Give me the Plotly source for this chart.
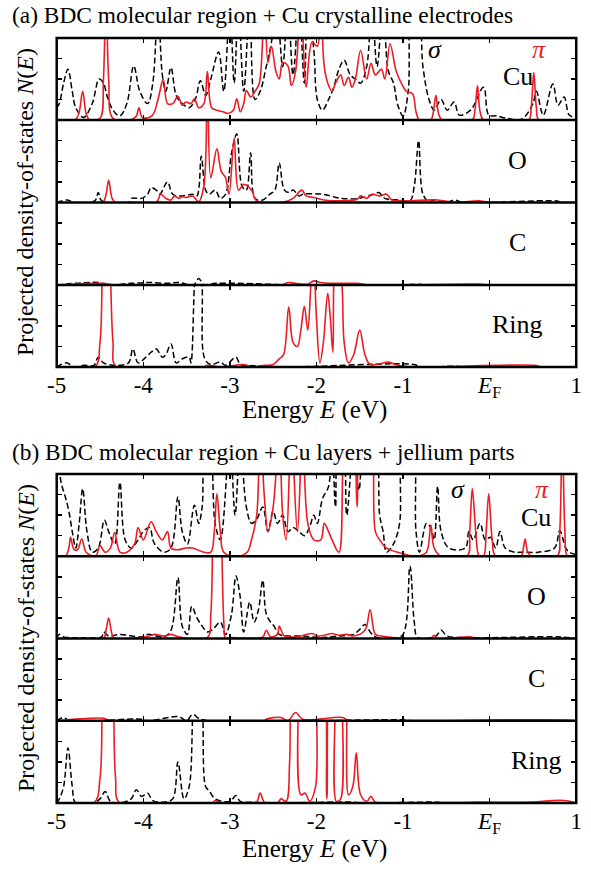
import plotly.graph_objects as go

# ---------------- data (energy in eV, normalised projected DOS) ----------------
# Panel (a): BDC molecular region + Cu crystalline electrodes
a_cu_sigma_E = [-5.00,-4.97,-4.92,-4.87,-4.82,-4.78,-4.69,-4.59,-4.51,-4.46,-4.42,-4.35,-4.27,-4.19,-4.11,-4.04,-3.95,-3.89,-3.83,-3.78,-3.74,-3.68,-3.62,-3.55,-3.47,-3.40,-3.34,-3.28,-3.22,-3.13,-3.07,-3.00,-2.95,-2.90,-2.84,-2.77,-2.71,-2.65,-2.58,-2.52,-2.46,-2.39,-2.33,-2.27,-2.20,-2.14,-2.10,-2.03,-1.99,-1.93,-1.86,-1.80,-1.74,-1.68,-1.61,-1.55,-1.49,-1.42,-1.36,-1.30,-1.23,-1.17,-1.11,-1.06,-1.00,-0.94,-0.89,-0.83,-0.77,-0.70,-0.64,-0.56,-0.49,-0.41,-0.35,-0.22,-0.07,-0.01,0.08,0.20,0.37,0.50,0.54,0.62,0.73,0.79,0.86,0.92,1.00]
a_cu_sigma_N = [0.15,0.20,0.45,0.62,0.35,0.15,0.03,0.20,0.50,0.45,0.30,0.12,0.05,0.20,0.66,0.35,0.20,0.45,1.40,0.55,0.35,0.64,0.30,0.20,0.15,0.25,0.48,0.30,0.50,0.83,0.35,1.40,0.45,1.40,0.35,1.40,0.25,0.35,0.65,0.95,1.40,0.65,1.40,0.55,1.40,0.45,1.40,0.85,0.25,0.12,0.25,0.40,0.62,0.73,0.55,0.50,0.45,0.65,1.40,0.65,1.40,0.60,0.45,0.18,0.05,0.35,1.40,1.40,0.65,0.25,0.12,0.25,0.12,0.22,0.06,0.12,0.40,0.06,0.05,0.02,0.01,0.20,0.35,0.06,0.44,0.18,0.28,0.06,0.03]

a_cu_pi_E = [-5.00,-4.78,-4.74,-4.70,-4.66,-4.62,-4.50,-4.46,-4.43,-4.40,-4.35,-4.15,-4.08,-4.05,-4.01,-3.90,-3.83,-3.77,-3.72,-3.66,-3.60,-3.55,-3.51,-3.45,-3.41,-3.36,-3.30,-3.26,-3.21,-3.15,-3.08,-3.02,-2.96,-2.92,-2.88,-2.84,-2.81,-2.76,-2.71,-2.66,-2.60,-2.56,-2.52,-2.47,-2.43,-2.39,-2.33,-2.29,-2.24,-2.18,-2.12,-2.05,-1.99,-1.95,-1.91,-1.86,-1.82,-1.78,-1.72,-1.68,-1.63,-1.59,-1.55,-1.49,-1.42,-1.37,-1.32,-1.25,-1.21,-1.15,-1.08,-1.02,-0.96,-0.89,-0.85,-0.81,-0.68,-0.65,-0.62,-0.59,-0.55,-0.20,-0.17,-0.14,-0.11,-0.07,0.45,0.48,0.51,0.54,0.57,1.00]
a_cu_pi_N = [0.00,0.01,0.10,0.35,0.08,0.00,0.02,0.50,1.60,0.50,0.02,0.00,0.05,0.15,0.03,0.05,0.25,0.50,0.20,0.20,0.29,0.18,0.22,0.20,0.26,0.15,0.20,0.59,0.15,0.12,0.10,0.08,0.12,0.26,0.10,0.20,0.36,0.28,0.35,0.45,1.50,0.70,0.90,0.60,0.50,0.70,0.66,0.42,0.60,1.50,0.40,0.95,0.90,1.50,0.65,0.42,0.35,0.45,0.55,0.42,0.52,0.40,0.50,0.85,0.50,0.69,0.55,0.62,0.50,0.93,0.60,0.45,0.35,0.32,0.10,0.00,0.00,0.10,0.30,0.08,0.00,0.00,0.12,0.42,0.10,0.00,0.00,0.15,0.58,0.15,0.00,0.00]

a_o_sigma_E = [-5.00,-4.88,-4.80,-4.56,-4.52,-4.48,-4.16,-4.14,-4.02,-3.95,-3.91,-3.85,-3.81,-3.72,-3.66,-3.55,-3.43,-3.38,-3.33,-3.28,-3.24,-3.17,-3.11,-3.05,-2.98,-2.92,-2.86,-2.81,-2.76,-2.71,-2.62,-2.54,-2.48,-2.43,-2.37,-2.31,-2.27,-2.20,-2.16,-1.93,-1.72,-1.51,-1.34,-1.28,-1.21,-1.04,-0.92,-0.87,-0.82,-0.77,-0.70,-0.64,-0.50,-0.41,-0.30,0.75,0.85,1.00]
a_o_sigma_N = [0.00,0.03,0.00,0.02,0.12,0.02,0.00,0.05,0.05,0.10,0.18,0.15,0.10,0.25,0.10,0.08,0.10,0.08,0.56,0.15,0.10,0.15,0.05,0.10,0.60,0.83,0.20,0.15,0.60,0.05,0.03,0.10,0.15,0.48,0.15,0.12,0.15,0.08,0.10,0.10,0.05,0.05,0.10,0.12,0.05,0.03,0.02,0.20,0.75,0.10,0.01,0.03,0.00,0.03,0.00,0.02,0.00,0.00]

a_o_pi_E = [-5.00,-4.47,-4.43,-4.40,-4.36,-4.32,-3.85,-3.80,-3.74,-3.68,-3.64,-3.59,-3.55,-3.51,-3.47,-3.43,-3.36,-3.30,-3.26,-3.22,-3.15,-3.10,-3.05,-3.01,-2.95,-2.90,-2.84,-2.75,-2.69,-2.40,-2.27,-2.17,-2.12,-2.03,-1.91,-1.74,-1.53,-1.49,-1.42,-1.36,-1.27,-1.19,-1.13,-1.06,-0.60,-0.40,-0.12,0.00,1.00]
a_o_pi_N = [0.00,0.00,0.10,0.27,0.05,0.00,0.00,0.10,0.05,0.03,0.08,0.05,0.07,0.06,0.07,0.08,0.01,0.20,1.40,0.30,0.65,0.38,0.30,0.10,0.78,0.15,0.22,0.15,0.02,0.00,0.05,0.15,0.08,0.06,0.03,0.02,0.04,0.08,0.05,0.10,0.08,0.10,0.03,0.02,0.03,0.00,0.02,0.00,0.00]

a_c_sigma_E = [-5.00,-4.52,-4.40,-4.14,-3.93,-3.72,-3.59,-3.42,-3.36,-3.30,-3.17,-2.92,-2.58,-2.30,-1.00,-0.85,-0.70,1.00]
a_c_sigma_N = [0.00,0.03,0.00,0.02,0.03,0.02,0.03,0.00,0.08,0.00,0.02,0.02,0.01,0.00,0.00,0.01,0.00,0.00]
a_c_pi_E = [-5.00,-4.46,-4.35,-2.40,-2.33,-2.24,-2.10,-2.03,-1.95,-1.82,-1.53,-1.40,-0.14,0.00,1.00]
a_c_pi_N = [0.00,0.02,0.00,0.00,0.03,0.02,0.01,0.05,0.03,0.02,0.02,0.00,0.01,0.00,0.00]

a_ring_sigma_E = [-5.00,-4.97,-4.88,-4.80,-4.69,-4.57,-4.52,-4.46,-4.35,-4.27,-4.17,-4.12,-4.06,-3.97,-3.91,-3.85,-3.78,-3.74,-3.68,-3.62,-3.55,-3.47,-3.45,-3.41,-3.36,-3.32,-3.29,-3.22,-3.11,-3.05,-2.93,-2.88,-2.79,-2.58,-2.30,-0.87,-0.80,-0.41,-0.30,1.00]
a_ring_sigma_N = [0.00,0.02,0.05,0.00,0.02,0.02,0.12,0.05,0.02,0.02,0.05,0.22,0.05,0.12,0.18,0.22,0.12,0.15,0.28,0.05,0.10,0.12,0.05,1.00,2.00,1.00,0.10,0.03,0.06,0.02,0.12,0.03,0.02,0.01,0.00,0.03,0.00,0.01,0.00,0.00]
a_ring_pi_E = [-5.00,-4.56,-4.50,-4.47,-4.43,-4.39,-4.35,-4.31,-3.30,-3.26,-3.10,-2.84,-2.75,-2.60,-2.50,-2.43,-2.38,-2.32,-2.27,-2.22,-2.18,-2.14,-2.10,-2.07,-2.04,-2.00,-1.96,-1.92,-1.87,-1.84,-1.81,-1.78,-1.74,-1.70,-1.68,-1.63,-1.57,-1.50,-1.44,-1.38,-1.27,-1.17,-1.06,-0.90,0.52,0.60,1.00]
a_ring_pi_N = [0.00,0.00,0.30,1.60,2.50,1.60,0.30,0.00,0.00,0.02,0.00,0.03,0.00,0.02,0.03,0.10,0.15,0.73,0.30,0.25,0.45,0.74,0.45,0.90,1.50,0.60,0.05,0.30,0.90,0.60,0.18,1.50,1.60,0.90,0.30,0.05,0.15,0.45,0.15,0.03,0.04,0.06,0.02,0.00,0.02,0.00,0.00]

# Panel (b): BDC molecular region + Cu layers + jellium parts
b_cu_sigma_E = [-5.00,-4.97,-4.95,-4.90,-4.86,-4.82,-4.78,-4.74,-4.70,-4.65,-4.59,-4.52,-4.45,-4.40,-4.33,-4.27,-4.21,-4.14,-4.06,-4.00,-3.93,-3.87,-3.76,-3.68,-3.60,-3.55,-3.49,-3.41,-3.36,-3.32,-3.28,-3.24,-3.17,-3.11,-3.00,-2.94,-2.88,-2.81,-2.75,-2.69,-2.62,-2.56,-2.50,-2.45,-2.39,-2.33,-2.27,-2.20,-2.14,-2.08,-2.03,-1.99,-1.93,-1.86,-1.82,-1.78,-1.74,-1.70,-1.65,-1.57,-1.51,-1.44,-1.38,-1.32,-1.27,-1.23,-1.19,-1.11,-1.04,-1.00,-0.94,-0.89,-0.85,-0.81,-0.73,-0.68,-0.64,-0.60,-0.56,-0.47,-0.28,-0.24,-0.19,-0.11,-0.05,0.01,0.07,0.12,0.18,0.29,0.37,0.56,0.75,0.81,0.88,0.92,1.00]
b_cu_sigma_N = [1.40,1.10,0.90,0.72,0.55,0.30,0.10,0.40,0.82,0.30,0.05,0.10,0.44,0.30,0.15,0.90,0.20,0.10,0.20,0.30,0.35,0.15,0.05,0.10,0.72,0.30,0.15,0.62,0.40,0.60,1.40,1.40,0.40,0.20,1.40,0.50,1.40,0.60,0.40,0.45,0.60,0.30,0.55,0.40,0.50,0.30,0.35,0.30,0.25,0.35,0.50,0.40,0.70,0.85,1.40,0.60,1.40,1.40,0.50,1.40,0.80,1.40,1.40,1.40,0.50,0.30,0.05,0.15,0.40,1.40,1.40,1.40,0.30,0.05,0.40,0.35,0.20,0.85,0.30,0.10,0.10,0.30,0.20,0.40,0.20,0.23,0.10,0.30,0.10,0.05,0.05,0.05,0.10,0.31,0.10,0.05,0.02]

b_cu_pi_E = [-5.00,-4.90,-4.86,-4.84,-4.80,-4.76,-4.71,-4.66,-4.55,-4.50,-4.44,-4.38,-4.33,-4.27,-4.19,-4.10,-4.06,-4.00,-3.91,-3.85,-3.78,-3.72,-3.68,-3.60,-3.51,-3.43,-3.30,-3.22,-3.18,-3.15,-3.11,-3.07,-2.92,-2.80,-2.75,-2.69,-2.65,-2.60,-2.56,-2.50,-2.43,-2.39,-2.35,-2.29,-2.22,-2.16,-2.10,-2.03,-1.95,-1.91,-1.86,-1.82,-1.74,-1.65,-1.59,-1.53,-1.49,-1.44,-1.38,-1.32,-1.27,-1.19,-1.06,-0.85,-0.73,-0.68,-0.64,-0.56,-0.26,-0.23,-0.20,-0.16,-0.12,-0.07,-0.04,-0.01,0.03,0.07,0.36,0.39,0.41,0.44,0.48,0.78,0.81,0.84,0.87,0.90,1.00]
b_cu_pi_N = [0.00,0.00,0.10,0.23,0.08,0.08,0.21,0.05,0.00,0.13,0.05,0.10,0.29,0.05,0.05,0.15,0.35,0.20,0.42,0.30,0.20,0.30,0.10,0.08,0.10,0.10,0.05,0.05,0.30,0.76,0.30,0.05,0.00,0.05,0.20,0.50,1.50,0.70,0.30,0.60,1.50,0.50,0.20,1.50,0.30,1.50,0.40,0.20,0.20,0.40,0.30,0.20,0.05,1.50,1.50,0.60,1.50,1.50,1.50,0.30,0.20,0.10,0.05,0.00,0.05,0.38,0.10,0.00,0.00,0.30,0.82,0.30,0.00,0.00,0.30,0.76,0.20,0.00,0.00,0.10,0.21,0.05,0.00,0.00,0.30,1.50,0.30,0.00,0.00]

b_o_sigma_E = [-5.00,-4.97,-4.92,-4.69,-4.48,-4.46,-4.40,-4.27,-4.02,-3.95,-3.76,-3.68,-3.60,-3.55,-3.49,-3.44,-3.38,-3.32,-3.26,-3.19,-3.11,-3.05,-2.98,-2.93,-2.88,-2.84,-2.77,-2.72,-2.67,-2.62,-2.58,-2.53,-2.49,-2.43,-2.33,-2.16,-1.95,-1.74,-1.57,-1.51,-1.44,-1.38,-1.32,-1.11,-1.00,-0.92,-0.87,-0.83,-0.62,-0.56,-0.49,-0.22,0.79,1.00]
b_o_sigma_N = [0.00,0.05,0.02,0.01,0.02,0.08,0.03,0.05,0.02,0.05,0.02,0.10,0.74,0.15,0.05,0.39,0.25,0.15,0.08,0.12,0.20,0.05,0.30,0.76,0.50,0.08,0.44,0.20,0.35,0.71,0.30,0.20,0.15,0.05,0.03,0.03,0.01,0.03,0.05,0.10,0.17,0.08,0.02,0.00,0.05,0.88,0.20,0.01,0.03,0.10,0.03,0.01,0.02,0.00]

b_o_pi_E = [-5.00,-4.46,-4.43,-4.40,-4.36,-4.33,-3.93,-3.87,-3.76,-3.68,-3.59,-3.26,-3.22,-3.19,-3.15,-3.11,-3.07,-3.05,-3.00,-2.62,-2.58,-2.53,-2.45,-2.43,-2.37,-2.24,-2.05,-1.99,-1.91,-1.82,-1.74,-1.65,-1.57,-1.44,-1.38,-1.32,-1.25,-0.68,-0.64,-0.60,-0.22,-0.15,1.00]
b_o_pi_N = [0.00,0.00,0.10,0.25,0.05,0.00,0.03,0.05,0.03,0.05,0.02,0.01,0.30,1.80,2.50,1.80,0.20,0.00,0.01,0.02,0.10,0.02,0.05,0.15,0.03,0.02,0.06,0.03,0.04,0.06,0.04,0.05,0.03,0.10,0.35,0.05,0.03,0.00,0.04,0.00,0.02,0.00,0.00]

b_c_sigma_E = [-5.00,-4.92,-4.85,-4.02,-3.95,-3.59,-3.50,-3.43,-3.36,-3.25,-0.96,-0.90,1.00]
b_c_sigma_N = [0.00,0.04,0.00,0.02,0.00,0.05,0.00,0.08,0.03,0.00,0.01,0.00,0.00]
b_c_pi_E = [-5.00,-4.46,-4.38,-2.60,-2.58,-2.41,-2.33,-2.24,-2.16,-1.70,-1.62,-0.01,0.86,1.00]
b_c_pi_N = [0.00,0.03,0.00,0.00,0.02,0.04,0.00,0.10,0.02,0.04,0.00,0.01,0.01,0.00]

b_ring_sigma_E = [-5.00,-4.97,-4.92,-4.87,-4.82,-4.78,-4.57,-4.50,-4.44,-4.38,-4.27,-4.14,-4.08,-4.02,-3.95,-3.89,-3.76,-3.66,-3.60,-3.53,-3.47,-3.42,-3.37,-3.32,-3.28,-3.24,-3.17,-3.00,-2.93,-2.88,-2.75,-2.50,-1.57,-1.50,-0.60,-0.50,1.00]
b_ring_sigma_N = [0.00,0.05,0.20,0.67,0.20,0.00,0.00,0.05,0.14,0.02,0.00,0.05,0.16,0.08,0.12,0.03,0.01,0.05,0.50,0.05,0.20,1.20,1.50,1.20,0.20,0.15,0.05,0.02,0.09,0.02,0.01,0.00,0.01,0.00,0.01,0.00,0.00]
b_ring_pi_E = [-5.00,-4.57,-4.50,-4.47,-4.41,-4.35,-4.32,-4.27,-3.20,-3.17,-3.10,-2.70,-2.65,-2.60,-2.45,-2.41,-2.35,-2.31,-2.29,-2.25,-2.21,-2.18,-2.13,-2.08,-2.01,-1.97,-1.93,-1.88,-1.83,-1.80,-1.77,-1.72,-1.69,-1.67,-1.63,-1.58,-1.54,-1.49,-1.42,-1.37,-1.32,-0.90,-0.22,0.41,0.86,1.00]
b_ring_pi_N = [0.00,0.00,0.30,1.60,2.50,1.60,0.30,0.00,0.00,0.03,0.00,0.00,0.12,0.01,0.00,0.05,0.02,0.50,2.00,2.20,2.00,0.10,0.12,0.02,0.20,1.80,1.80,0.05,1.80,1.80,0.02,0.05,1.80,1.80,0.10,0.20,0.61,0.10,0.02,0.08,0.01,0.00,0.01,0.01,0.03,0.00]

row_labels = ["Cu", "O", "C", "Ring"]
tick_vals = [-5, -4, -3, -2, -1, 0, 1]
tick_text = ["-5", "-4", "-3", "-2", "-1", "<i>E</i><sub>F</sub>", "1"]
panel_titles = ["(a) BDC molecular region + Cu crystalline electrodes",
                "(b) BDC molecular region + Cu layers + jellium parts"]

series = [
    (a_cu_sigma_E, a_cu_sigma_N, a_cu_pi_E, a_cu_pi_N),
    (a_o_sigma_E, a_o_sigma_N, a_o_pi_E, a_o_pi_N),
    (a_c_sigma_E, a_c_sigma_N, a_c_pi_E, a_c_pi_N),
    (a_ring_sigma_E, a_ring_sigma_N, a_ring_pi_E, a_ring_pi_N),
    (b_cu_sigma_E, b_cu_sigma_N, b_cu_pi_E, b_cu_pi_N),
    (b_o_sigma_E, b_o_sigma_N, b_o_pi_E, b_o_pi_N),
    (b_c_sigma_E, b_c_sigma_N, b_c_pi_E, b_c_pi_N),
    (b_ring_sigma_E, b_ring_sigma_N, b_ring_pi_E, b_ring_pi_N),
]

# ---------------- layout geometry (pixels) ----------------
W, H = 591, 871
X0, X1 = 48, 582
panel_edges = [[38, 120, 202.5, 285, 367], [474, 556.3, 638.5, 720.8, 803]]
FONT = "Liberation Serif"
RED = "rgb(236,28,36)"

def px(x):
    return x / W

def py(y):
    return 1 - y / H

fig = go.Figure()
layout = dict(width=W, height=H, margin=dict(l=0, r=0, t=0, b=0),
              paper_bgcolor="white", plot_bgcolor="white", showlegend=False,
              font=dict(family=FONT, size=22, color="black"))

annotations = []
shapes = []
for p in range(2):
    edges = panel_edges[p]
    for r in range(4):
        i = p * 4 + r + 1
        sE, sN, pE, pN = series[i - 1]
        fig.add_trace(go.Scatter(x=sE, y=sN, mode="lines", xaxis=f"x{i}", yaxis=f"y{i}",
                                 line=dict(color="black", width=1.5, dash="6px,3px",
                                           shape="spline", smoothing=1.0)))
        fig.add_trace(go.Scatter(x=pE, y=pN, mode="lines", xaxis=f"x{i}", yaxis=f"y{i}",
                                 line=dict(color=RED, width=1.6, shape="spline", smoothing=1.0)))
        bottom_row = (r == 3)
        layout[f"xaxis{i}"] = dict(domain=[px(X0), px(X1)], anchor=f"y{i}", range=[-5, 1.0005],
                                   tickvals=tick_vals, ticktext=tick_text,
                                   ticks="inside", ticklen=5, tickwidth=1.5, tickcolor="black",
                                   showline=False, mirror="ticks",
                                   showgrid=False, zeroline=False, showticklabels=bottom_row,
                                   tickfont=dict(family=FONT, size=23), ticklabelstandoff=2,
                                   ticklabeloverflow="allow")
        layout[f"yaxis{i}"] = dict(domain=[py(edges[r + 1]), py(edges[r])], anchor=f"x{i}",
                                   range=[0, 1], tickvals=[0.25, 0.5, 0.75],
                                   ticks="inside", ticklen=5, tickwidth=1.5, tickcolor="black",
                                   showline=False, mirror="ticks",
                                   showgrid=False, zeroline=False, showticklabels=False)
        # row label
        lx = 522 if p == 0 else 541
        ly = (edges[r] + edges[r + 1]) / 2 + (-1 if r else (-2 if p == 0 else 2))
        annotations.append(dict(text=row_labels[r], x=px(lx), y=py(ly), xref="paper", yref="paper",
                                showarrow=False, xanchor="center", yanchor="middle",
                                font=dict(family=FONT, size=26)))
    # frame of the panel and the row separators
    shapes.append(dict(type="rect", xref="paper", yref="paper", x0=px(X0), x1=px(X1),
                       y0=py(edges[4]), y1=py(edges[0]), line=dict(color="black", width=2.5),
                       layer="above"))
    for r in range(1, 4):
        shapes.append(dict(type="line", xref="paper", yref="paper", x0=px(X0), x1=px(X1),
                           y0=py(edges[r]), y1=py(edges[r]), line=dict(color="black", width=2.5),
                           layer="above"))
    # panel title
    ty = 15 if p == 0 else 452
    annotations.append(dict(text=panel_titles[p], x=px(0), y=py(ty), xref="paper", yref="paper",
                            showarrow=False, xanchor="left", yanchor="middle",
                            font=dict(family=FONT, size=23.4)))
    # x axis title
    xt = 410 if p == 0 else 849
    annotations.append(dict(text="Energy <i>E</i> (eV)", x=px((X0 + X1) / 2 - 2), y=py(xt),
                            xref="paper", yref="paper", showarrow=False,
                            xanchor="center", yanchor="middle", font=dict(family=FONT, size=25)))
    # y axis title
    annotations.append(dict(text="Projected density-of-states <i>N</i>(<i>E</i>)", x=px(16),
                            y=py((edges[0] + edges[4]) / 2), xref="paper", yref="paper",
                            showarrow=False, textangle=-90, xanchor="center", yanchor="middle",
                            font=dict(family=FONT, size=24)))
    # sigma / pi labels
    sy = 50 if p == 0 else 489
    sx = 437 if p == 0 else 460
    pxx = 544 if p == 0 else 547
    annotations.append(dict(text="<i>σ</i>", x=px(sx), y=py(sy), xref="paper", yref="paper",
                            showarrow=False, xanchor="center", yanchor="middle",
                            font=dict(family=FONT, size=26, color="black")))
    annotations.append(dict(text="<i>π</i>", x=px(pxx), y=py(sy), xref="paper", yref="paper",
                            showarrow=False, xanchor="center", yanchor="middle",
                            font=dict(family=FONT, size=26, color=RED)))

layout["annotations"] = annotations
layout["shapes"] = shapes
fig.update_layout(**layout)
fig.write_html("out.html", config={"displayModeBar": False, "staticPlot": True},
               post_script="document.body.style.margin='0px';")
